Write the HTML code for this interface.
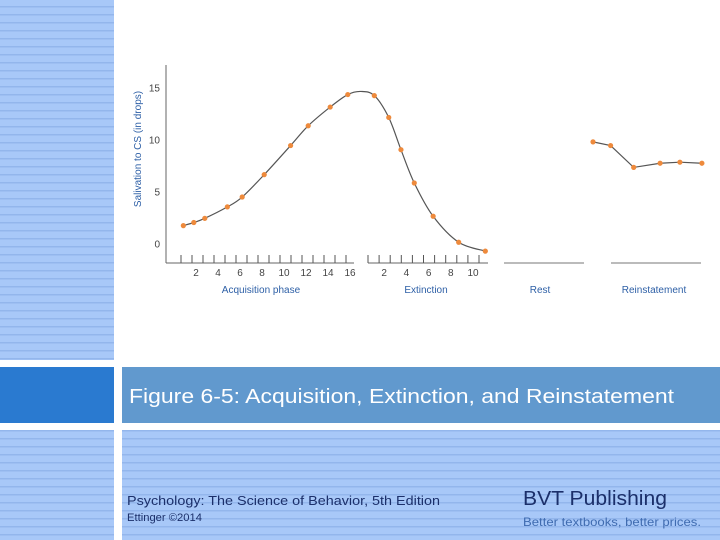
<!DOCTYPE html>
<html><head><meta charset="utf-8"><style>
html,body{margin:0;padding:0;background:#fff;}
svg{display:block;}
</style></head><body>
<svg id="slide" width="720" height="540" viewBox="0 0 720 540" xmlns="http://www.w3.org/2000/svg" font-family="Liberation Sans, sans-serif">
<defs>
<pattern id="stripes" width="8" height="8" patternUnits="userSpaceOnUse">
<rect width="8" height="8" fill="#a8c8f8"/><rect y="6" width="8" height="1.5" fill="#93b6ec"/>
</pattern>
</defs>
<rect x="0" y="0" width="114" height="360" fill="url(#stripes)"/>
<rect x="0" y="367" width="114" height="56" fill="#2a7ad0"/>
<rect x="0" y="430" width="114" height="110" fill="url(#stripes)"/>
<rect x="122" y="367" width="598" height="56" fill="#6199ce"/>
<rect x="122" y="430" width="598" height="110" fill="url(#stripes)"/>
<text x="129" y="403" font-size="20" fill="#fff" textLength="545" lengthAdjust="spacingAndGlyphs">Figure 6-5: Acquisition, Extinction, and Reinstatement</text>
<text x="127" y="505" font-size="13" fill="#1b2f6a" textLength="313" lengthAdjust="spacingAndGlyphs">Psychology: The Science of Behavior, 5th Edition</text>
<text x="127" y="521" font-size="11" fill="#1b2f6a" textLength="75" lengthAdjust="spacingAndGlyphs">Ettinger ©2014</text>
<text x="523" y="505" font-size="20" fill="#1b2f6a" textLength="144" lengthAdjust="spacingAndGlyphs">BVT Publishing</text>
<text x="523" y="526" font-size="12" fill="#3f6bb0" textLength="178" lengthAdjust="spacingAndGlyphs">Better textbooks, better prices.</text>
<g id="chart"></g>
</svg>
<script>
const acqTrials=[0.85,1.8,2.8,4.85,6.2,8.2,10.6,12.2,14.2,15.8];
const acqValues=[1.7,2.0,2.4,3.5,4.45,6.6,9.4,11.3,13.1,14.3];
const extTrials=[1.2,2.5,3.6,4.8,6.5,8.8,11.2];
const extValues=[14.2,12.1,9.0,5.8,2.6,0.1,-0.75];
const reinTrials=[1,1.8,2.85,4.05,4.95,5.95];
const reinValues=[9.75,9.4,7.3,7.7,7.8,7.7];
const yTicks=[0,5,10,15];
const acqTickLabels=[2,4,6,8,10,12,14,16];
const extTickLabels=[2,4,6,8,10];
const NS='http://www.w3.org/2000/svg';
const g=document.getElementById('chart');
const yS=v=>243.3-v*10.4;
const xA=n=>174+11*n;
const xE=n=>361+11.1*n;
const xR=n=>571+22*n;
function mk(tag,at,parent){const e=document.createElementNS(NS,tag);for(const k in at)e.setAttribute(k,at[k]);(parent||g).appendChild(e);return e;}
function txt(x,y,s,size,fill,anchor){const t=mk('text',{x:x,y:y,'font-size':size,fill:fill,'text-anchor':anchor||'middle'});t.textContent=s;return t;}
let e;
e=mk('line',{x1:166,y1:65,x2:166,y2:263,stroke:'#666','stroke-width':1});


yTicks.forEach(v=>{e=txt(160,yS(v)+4,String(v),10,'#444','end');

});
e=mk('text',{transform:'translate(141,149) rotate(-90)','font-size':10,fill:'#2d5fa6','text-anchor':'middle'});e.textContent='Salivation to CS (in drops)';


e=mk('line',{x1:166,y1:263,x2:354,y2:263,stroke:'#666'});


for(let n=1;n<=16;n++){mk('line',{x1:xA(n)-4,y1:255,x2:xA(n)-4,y2:263,stroke:'#555'});}
acqTickLabels.forEach(n=>{e=txt(xA(n),276,String(n),10,'#444');

});
e=mk('line',{x1:368,y1:263,x2:488,y2:263,stroke:'#666'});


mk('line',{x1:368,y1:255,x2:368,y2:263,stroke:'#555'});
for(let n=1;n<=10;n++){mk('line',{x1:xE(n)+7,y1:255,x2:xE(n)+7,y2:263,stroke:'#555'});}
extTickLabels.forEach(n=>{e=txt(xE(n)+1,276,String(n),10,'#444');

});
e=mk('line',{x1:504,y1:263,x2:584,y2:263,stroke:'#777'});


e=mk('line',{x1:611,y1:263,x2:701,y2:263,stroke:'#777'});


[[261,'Acquisition phase'],[426,'Extinction'],[540,'Rest'],[654,'Reinstatement']].forEach(p=>{e=txt(p[0],293,p[1],10,'#2d5fa6');

});
const pts=acqTrials.map((n,i)=>[xA(n),yS(acqValues[i])]).concat([[361,yS(14.6)]]).concat(extTrials.map((n,i)=>[xE(n),yS(extValues[i])]));
let d='M'+pts[0][0]+','+pts[0][1];
for(let i=0;i<pts.length-1;i++){const p0=pts[Math.max(0,i-1)],p1=pts[i],p2=pts[i+1],p3=pts[Math.min(pts.length-1,i+2)];
d+=' C'+(p1[0]+(p2[0]-p0[0])/6)+','+(p1[1]+(p2[1]-p0[1])/6)+' '+(p2[0]-(p3[0]-p1[0])/6)+','+(p2[1]-(p3[1]-p1[1])/6)+' '+p2[0]+','+p2[1];}
e=mk('path',{d:d,fill:'none',stroke:'#555','stroke-width':1.2});


acqTrials.forEach((n,i)=>{e=mk('circle',{cx:xA(n),cy:yS(acqValues[i]),r:2.6,fill:'#ee8a3c'});

});
extTrials.forEach((n,i)=>{e=mk('circle',{cx:xE(n),cy:yS(extValues[i]),r:2.6,fill:'#ee8a3c'});

});
e=mk('polyline',{points:reinTrials.map((n,i)=>xR(n)+','+yS(reinValues[i])).join(' '),fill:'none',stroke:'#555','stroke-width':1.2});


reinTrials.forEach((n,i)=>{e=mk('circle',{cx:xR(n),cy:yS(reinValues[i]),r:2.6,fill:'#ee8a3c'});

});
</script>
</body></html>
